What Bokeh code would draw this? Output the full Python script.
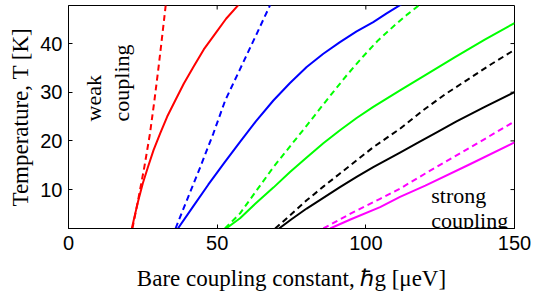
from bokeh.plotting import figure
from bokeh.models import Range1d, Label, FixedTicker
from bokeh.embed import file_html
from bokeh.resources import INLINE
import math

# ---- data ----
red_solid_g = [21.3, 22.3, 23.5, 25.0, 26.7, 28.6, 30.8, 33.2, 35.9, 38.8, 42.0, 45.5, 49.3, 53.0, 57.1, 58.0]
red_solid_T = [2.0, 4.7, 7.8, 11.3, 14.6, 18.1, 21.5, 25.0, 28.3, 31.8, 35.2, 38.8, 42.0, 45.1, 47.9, 48.5]
red_dash_g = [21.5, 23.4, 25.5, 27.4, 28.9, 30.3, 31.6, 32.7, 33.0]
red_dash_T = [2.0, 7.8, 14.6, 21.5, 28.3, 35.2, 42.0, 47.9, 49.0]

blue_solid_g = [36.8, 42.0, 47.0, 52.5, 57.7, 63.0, 68.9, 74.5, 80.1, 85.7, 91.3, 96.9, 102.5, 107.0, 111.5, 113.0]
blue_solid_T = [2.0, 6.6, 11.0, 15.6, 19.8, 24.0, 28.3, 31.9, 35.2, 37.9, 40.3, 42.5, 44.4, 46.2, 47.9, 48.5]
blue_dash_g = [36.0, 39.8, 44.3, 48.7, 52.7, 57.5, 63.3, 67.8, 68.6]
blue_dash_T = [2.0, 7.8, 14.6, 21.5, 28.3, 34.5, 42.0, 47.9, 49.0]

green_solid_g = [53.0, 57.7, 63.0, 68.9, 74.5, 80.1, 85.7, 91.3, 96.9, 102.5, 111.5, 120.0, 130.0, 140.0, 150.0]
green_solid_T = [2.0, 4.1, 7.2, 10.4, 13.6, 16.6, 19.5, 22.2, 24.7, 27.0, 30.4, 33.5, 37.2, 40.8, 44.2]
green_dash_g = [52.6, 57.7, 63.0, 68.9, 74.8, 80.7, 87.0, 93.6, 99.0, 104.2, 109.8, 114.0, 118.2, 120.0]
green_dash_T = [2.0, 5.1, 9.6, 14.6, 19.1, 23.6, 28.5, 33.5, 37.3, 40.7, 43.8, 46.0, 48.0, 49.0]

black_solid_g = [70.8, 75.0, 80.1, 85.7, 91.3, 96.9, 102.5, 111.5, 118.0, 124.0, 130.5, 140.0, 150.0]
black_solid_T = [2.0, 3.9, 6.1, 8.3, 10.5, 12.6, 14.6, 17.6, 19.8, 21.8, 24.0, 27.0, 30.0]
black_dash_g = [69.5, 74.5, 80.1, 85.7, 91.3, 96.9, 102.5, 111.5, 119.3, 126.5, 134.0, 142.0, 150.0]
black_dash_T = [2.0, 4.7, 7.8, 10.6, 13.3, 16.0, 18.7, 22.5, 26.3, 29.5, 32.5, 35.7, 38.7]

magenta_solid_g = [88.0, 95.0, 104.8, 111.5, 120.0, 135.0, 150.0]
magenta_solid_T = [2.0, 3.9, 6.4, 8.5, 10.8, 15.2, 19.7]
magenta_dash_g = [85.7, 95.0, 104.8, 111.5, 120.0, 135.0, 150.0]
magenta_dash_T = [2.0, 5.1, 8.1, 10.2, 13.3, 18.6, 24.0]

x_ticks = [0, 50, 100, 150]
y_ticks = [10, 20, 30, 40]
x_min, x_max = 0, 150
y_min, y_max = 2, 2 + 223 / 4.867

SERIF = "Liberation Serif"
SANS = "Liberation Sans"

p = figure(width=545, height=301, output_backend="svg", toolbar_location=None,
           x_range=Range1d(x_min, x_max), y_range=Range1d(y_min, y_max),
           min_border_left=68, min_border_right=31, min_border_top=5,
           min_border_bottom=73)
p.background_fill_color = "white"
p.border_fill_color = "white"
p.outline_line_color = "black"
p.outline_line_width = 1
p.grid.visible = False

series = [
    (red_solid_g, red_solid_T, "#ff0000", "solid"),
    (red_dash_g, red_dash_T, "#ff0000", "6 4"),
    (blue_solid_g, blue_solid_T, "#0000ff", "solid"),
    (blue_dash_g, blue_dash_T, "#0000ff", "6 4"),
    (green_solid_g, green_solid_T, "#00ff00", "solid"),
    (green_dash_g, green_dash_T, "#00ff00", "6 4"),
    (black_solid_g, black_solid_T, "#000000", "solid"),
    (black_dash_g, black_dash_T, "#000000", "6 4"),
    (magenta_solid_g, magenta_solid_T, "#ff00ff", "solid"),
    (magenta_dash_g, magenta_dash_T, "#ff00ff", "6 4"),
]
for gx, ty, col, dash in series:
    p.line(gx, ty, line_color=col, line_width=2, line_dash=dash,
           line_join="round")

for ax in (p.xaxis[0], p.yaxis[0]):
    ax.major_tick_in = 4
    ax.major_tick_out = 0
    ax.minor_tick_line_color = None
    ax.axis_line_color = "black"
    ax.major_label_text_font = SANS
    ax.major_label_text_font_size = "20px"
    ax.major_label_text_color = "black"
    ax.axis_label_text_font = SERIF
    ax.axis_label_text_font_size = "23px"
    ax.axis_label_text_font_style = "normal"
    ax.axis_label_text_color = "black"

p.xaxis[0].ticker = FixedTicker(ticks=x_ticks)
p.yaxis[0].ticker = FixedTicker(ticks=y_ticks)
p.xaxis[0].axis_label = "Bare coupling constant, \u210fg [\u03bceV]"
p.yaxis[0].axis_label = "Temperature, T [K]"
p.xaxis[0].major_label_standoff = 7
p.yaxis[0].major_label_standoff = 6
p.xaxis[0].axis_label_standoff = 13
p.yaxis[0].axis_label_standoff = 4

# inward ticks on the top and right frame edges
p.ray(x=x_ticks[1:-1], y=[y_max] * (len(x_ticks) - 2), length=4,
      length_units="screen", angle=-math.pi / 2, line_color="black", line_width=1)
p.ray(x=[x_max] * len(y_ticks), y=y_ticks, length=4,
      length_units="screen", angle=math.pi, line_color="black", line_width=1)

lab_kw = dict(text_font=SERIF, text_font_size="22px", text_color="black")
p.add_layout(Label(x=8.35, y=24.0, text="weak", angle=math.pi / 2,
                   text_align="left", text_baseline="alphabetic", **lab_kw))
p.add_layout(Label(x=17.8, y=24.0, text="coupling", angle=math.pi / 2,
                   text_align="left", text_baseline="alphabetic", **lab_kw))
p.add_layout(Label(x=122.0, y=8.8, text="strong",
                   text_align="left", text_baseline="alphabetic", **lab_kw))
p.add_layout(Label(x=122.0, y=3.7, text="coupling",
                   text_align="left", text_baseline="alphabetic", **lab_kw))

open("out.html", "w").write(file_html(p, INLINE))
